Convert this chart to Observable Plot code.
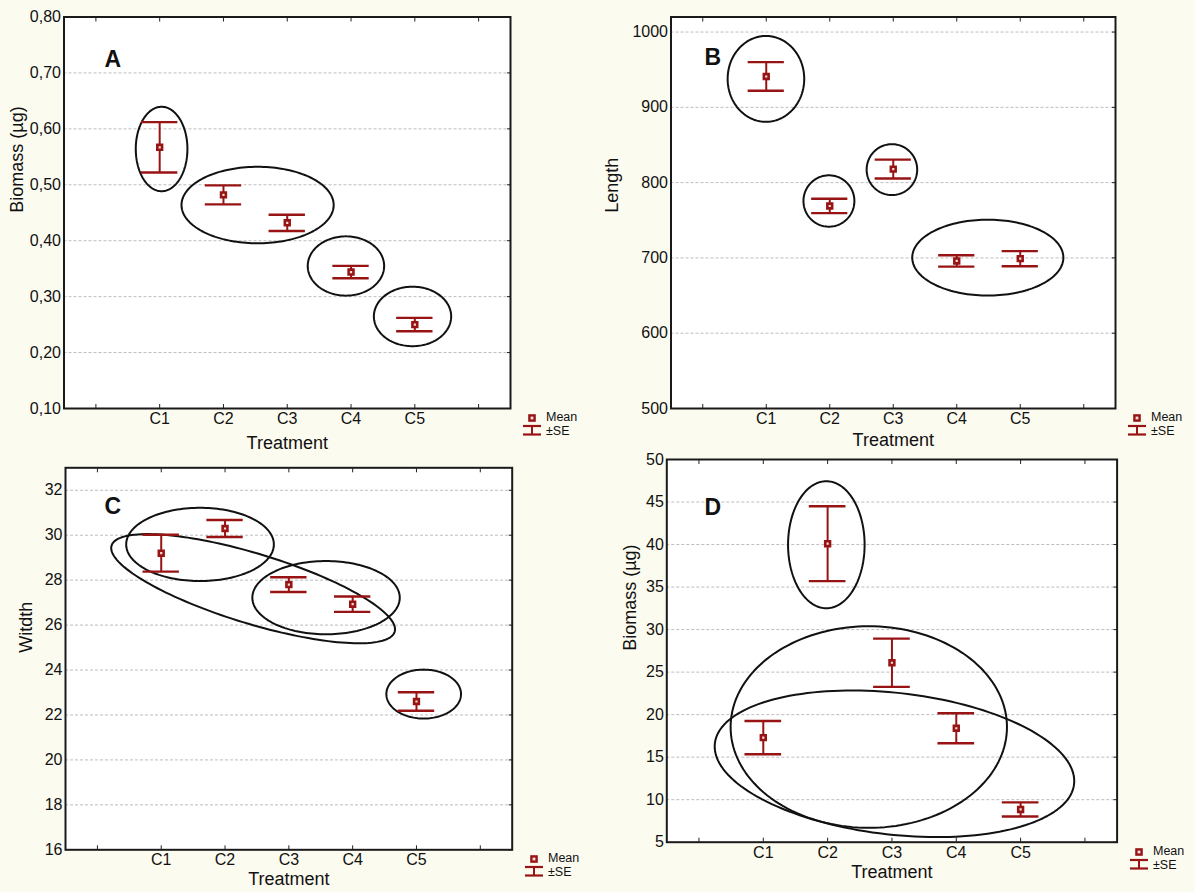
<!DOCTYPE html>
<html><head><meta charset="utf-8">
<script src="https://cdn.jsdelivr.net/npm/d3@7"></script>
<script src="https://cdn.jsdelivr.net/npm/@observablehq/plot@0.6"></script>
<style>
html,body{margin:0;padding:0;background:#fcfbf0;}
#fig{position:relative;width:1195px;height:892px;background:#fcfbf0;overflow:hidden;font-family:"Liberation Sans",Arial,sans-serif;}
.panel{position:absolute;}
.panel svg{overflow:visible;}
</style></head><body><div id="fig"></div>
<script>
const treatments = ["C1","C2","C3","C4","C5"];
const xTickPositions = [1,2,3,4,5,6,7];

// Panel A – Biomass (µg)
const biomassMeanA = [0.567, 0.482, 0.432, 0.344, 0.250];
const biomassSeA   = [0.045, 0.017, 0.0145, 0.011, 0.012];
const ticksA = [0.1,0.2,0.3,0.4,0.5,0.6,0.7,0.8];
// ellipses: [cx, cy, ux, uy, vx, vy] (centre, semi-axis vectors in data units)
const ellipsesA = [
  [2.03, 0.564, 0.405, 0, 0, 0.0755],
  [3.535, 0.4638, 1.193, 0, 0, 0.0684],
  [4.92, 0.3548, 0.599, 0, 0, 0.053],
  [5.964, 0.2646, 0.606, 0, 0, 0.0532]
];

// Panel B – Length
const lengthMeanB = [941, 769, 818, 696, 699];
const lengthSeB   = [19, 9.5, 12.5, 7.5, 10];
const ticksB = [500,600,700,800,900,1000];
const ellipsesB = [
  [1.995, 937.8, 0.603, 0, 0, 57.0],
  [2.987, 775.6, 0.401, 0, 0, 34.1],
  [3.979, 817.3, 0.398, 0, 0, 33.8],
  [5.489, 700.4, 1.19, 0, 0, 50.4]
];

// Panel C – Witdth
const widthMeanC = [29.2, 30.3, 27.8, 26.93, 22.6];
const widthSeC   = [0.82, 0.38, 0.33, 0.34, 0.41];
const ticksC = [16,18,20,22,24,26,28,30,32];
const ellipsesC = [
  [2.608, 29.59, 1.157, 0, 0, 1.63],
  [4.583, 27.22, 1.155, 0, 0, 1.63],
  [3.44, 27.62, 2.218, -1.92, 0.160, 1.489],
  [6.113, 22.93, 0.585, 0, 0, 1.089]
];

// Panel D – Biomass (µg)
const biomassMeanD = [17.3, 40.1, 26.1, 18.4, 8.85];
const biomassSeD   = [1.95, 4.4, 2.84, 1.77, 0.83];
const ticksD = [5,10,15,20,25,30,35,40,45,50];
const ellipsesD = [
  [2.98, 39.98, 0.595, 0, 0, 7.47],
  [3.64, 18.54, 2.148, 0, 0, 11.85],
  [4.039, 14.22, 2.792, -2.40, 0.124, 8.28]
];

const RED = "#981313";
const FONT = "'Liberation Sans', Arial, Helvetica, sans-serif";
const fig = document.getElementById("fig");

function ellipsePoints(list) {
  const out = [];
  const N = 160;
  list.forEach((e, k) => {
    for (let j = 0; j < N; j++) {
      const t = 2 * Math.PI * j / N;
      out.push({id: k,
        x: e[0] + e[2] * Math.cos(t) + e[4] * Math.sin(t),
        y: e[1] + e[3] * Math.cos(t) + e[5] * Math.sin(t)});
    }
  });
  return out;
}

function makePanel(cfg) {
  const rows = treatments.map((t, i) => ({
    t, pos: i + 2, mean: cfg.mean[i],
    lo: cfg.mean[i] - cfg.se[i], hi: cfg.mean[i] + cfg.se[i]
  }));
  const cap = 0.285;
  const grid = cfg.ticks.filter(v => v > cfg.domain[0] && v < cfg.domain[1]);
  const plot = Plot.plot({
    width: cfg.width, height: cfg.height,
    marginLeft: cfg.m[3], marginTop: cfg.m[0], marginRight: cfg.m[1], marginBottom: cfg.m[2],
    style: {fontFamily: FONT, fontSize: "16px", color: "#111", background: "transparent", overflow: "visible"},
    x: {domain: [0.5, 7.5]},
    y: {domain: cfg.domain},
    marks: [
      Plot.frame({fill: "white", stroke: null}),
      Plot.gridY(grid, {stroke: "#bdbdbd", strokeOpacity: 1, strokeWidth: 1, strokeDasharray: "3,2"}),
      Plot.axisX(xTickPositions, {anchor: "bottom", tickSize: 4, dy: -4, tickFormat: () => "", label: null, stroke: "#222"}),
      Plot.axisX(xTickPositions, {anchor: "top", tickSize: 4, dy: 4, tickFormat: () => "", label: null, stroke: "#222"}),
      Plot.axisY(cfg.ticks, {anchor: "right", tickSize: 4, dx: -4, tickFormat: () => "", label: null, stroke: "#222"}),
      Plot.axisX([2,3,4,5,6], {anchor: "bottom", tickSize: 0, tickPadding: 4, tickFormat: d => treatments[d - 2], label: null, fontSize: 16}),
      Plot.axisY(cfg.ticks, {anchor: "left", tickSize: 0, tickPadding: 3, tickFormat: cfg.fmt, label: null, fontSize: 16}),
      Plot.line(ellipsePoints(cfg.ellipses), {x: "x", y: "y", z: "id", stroke: "#111", strokeWidth: 2, curve: "linear-closed"}),
      Plot.ruleX(rows, {x: "pos", y1: "lo", y2: "hi", stroke: RED, strokeWidth: 2}),
      Plot.ruleY(rows, {x1: d => d.pos - cap, x2: d => d.pos + cap, y: "hi", stroke: RED, strokeWidth: 2.4}),
      Plot.ruleY(rows, {x1: d => d.pos - cap, x2: d => d.pos + cap, y: "lo", stroke: RED, strokeWidth: 2.4}),
      Plot.dot(rows, {x: "pos", y: "mean", symbol: "square", r: 2.7, fill: "#f4dede", stroke: RED, strokeWidth: 2.6}),
      Plot.frame({stroke: "#1a1a1a", strokeWidth: 2}),
      Plot.text([cfg.letter], {text: d => d, frameAnchor: "top-left", dx: cfg.letterPos[0], dy: cfg.letterPos[1], fontSize: 23, fontWeight: "bold", textAnchor: "start", lineAnchor: "middle", fill: "#111"}),
      Plot.text(["Treatment"], {text: d => d, frameAnchor: "bottom", dy: cfg.xLabelDy, fontSize: 18, lineAnchor: "middle", fill: "#111"}),
      Plot.text([cfg.ylabel], {text: d => d, frameAnchor: "left", dx: cfg.yLabelDx, dy: cfg.yLabelDy || 0, rotate: -90, fontSize: 18, lineAnchor: "middle", fill: "#111"})
    ]
  });
  const div = document.createElement("div");
  div.className = "panel";
  div.style.left = cfg.left + "px";
  div.style.top = cfg.top + "px";
  div.appendChild(plot);
  fig.appendChild(div);

  // legend (Mean / ±SE) below-right of the frame
  const fr = cfg.left + cfg.width - cfg.m[1];
  const fb = cfg.top + cfg.height - cfg.m[2];
  const mx = fr + 22, my = fb + 10;
  const svg = d3.select(fig).append("svg")
    .attr("width", 80).attr("height", 34)
    .style("position", "absolute").style("overflow", "visible")
    .style("left", (mx - 14) + "px").style("top", (my - 8) + "px");
  const g = svg.append("g").attr("transform", "translate(14,8)");
  g.append("rect").attr("x", -2.6).attr("y", -2.6).attr("width", 5.2).attr("height", 5.2)
    .attr("fill", "#f4dede").attr("stroke", RED).attr("stroke-width", 2.4);
  g.append("line").attr("x1", -9).attr("x2", 9).attr("y1", 8).attr("y2", 8).attr("stroke", RED).attr("stroke-width", 2.2);
  g.append("line").attr("x1", -9).attr("x2", 9).attr("y1", 16.5).attr("y2", 16.5).attr("stroke", RED).attr("stroke-width", 2.2);
  g.append("line").attr("x1", 0).attr("x2", 0).attr("y1", 8).attr("y2", 16.5).attr("stroke", RED).attr("stroke-width", 2);
  g.append("text").attr("x", 14).attr("y", -1).attr("dy", "0.35em").attr("font-family", FONT).attr("font-size", 12.5).attr("fill", "#111").text("Mean");
  g.append("text").attr("x", 14).attr("y", 12.5).attr("dy", "0.35em").attr("font-family", FONT).attr("font-size", 12.5).attr("fill", "#111").text("±SE");
}

const commaFmt = d => d.toFixed(2).replace(".", ",");

makePanel({left: 0, top: 0, width: 597, height: 460, m: [16.5, 87, 52, 63.5],
  domain: [0.1, 0.8], ticks: ticksA, fmt: commaFmt, mean: biomassMeanA, se: biomassSeA,
  ellipses: ellipsesA, letter: "A", letterPos: [40.5, 43], ylabel: "Biomass (µg)", yLabelDx: -47, xLabelDy: 35});

makePanel({left: 597, top: 0, width: 598, height: 460, m: [16.5, 80, 52, 73.5],
  domain: [500, 1020], ticks: ticksB, fmt: d => String(d), mean: lengthMeanB, se: lengthSeB,
  ellipses: ellipsesB, letter: "B", letterPos: [33.5, 41], ylabel: "Length", yLabelDx: -59, xLabelDy: 32});

makePanel({left: 0, top: 452, width: 597, height: 440, m: [15.3, 85.3, 42.7, 65],
  domain: [16, 33], ticks: ticksC, fmt: d => String(d), mean: widthMeanC, se: widthSeC,
  ellipses: ellipsesC, letter: "C", letterPos: [39, 38.7], ylabel: "Witdth", yLabelDx: -39, yLabelDy: -6, xLabelDy: 29});

makePanel({left: 597, top: 452, width: 598, height: 440, m: [7, 78.4, 50.3, 69.3],
  domain: [5, 50], ticks: ticksD, fmt: d => String(d), mean: biomassMeanD, se: biomassSeD,
  ellipses: ellipsesD, letter: "D", letterPos: [37.7, 47.7], ylabel: "Biomass (µg)", yLabelDx: -37, xLabelDy: 30});
</script>
</body></html>
